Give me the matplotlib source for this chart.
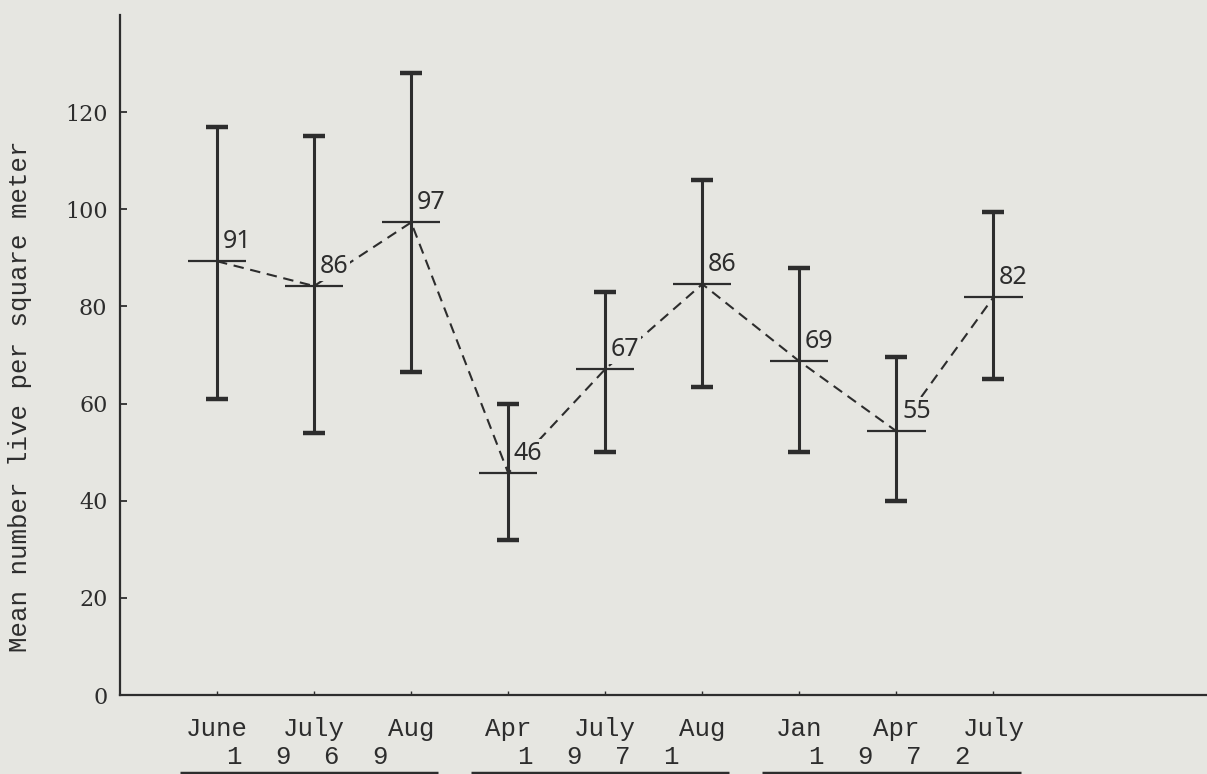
import matplotlib
matplotlib.use("Agg")
import matplotlib.pyplot as plt
import matplotlib.transforms as mtransforms
import numpy as np

# ---- data ----
months = ["June", "July", "Aug", "Apr", "July", "Aug", "Jan", "Apr", "July"]
years = ["1969", "1971", "1972"]
year_groups = [(0, 2), (3, 5), (6, 8)]          # index ranges of months in each year
means = [89.3, 84.2, 97.3, 45.7, 67.1, 84.6, 68.7, 54.3, 81.9]   # drawn positions
mean_labels = ["91", "86", "97", "46", "67", "86", "69", "55", "82"]
upper = [117, 115, 128, 60, 83, 106, 88, 69.5, 99.5]
lower = [61, 54, 66.5, 32, 50, 63.5, 50, 40, 65]
yticks = [0, 20, 40, 60, 80, 100, 120]

BG = "#e6e6e1"
INK = "#2d2d2d"

fig = plt.figure(figsize=(12.07, 7.74), dpi=100, facecolor=BG)
ax = fig.add_axes([120 / 1207, 79 / 774, 1 - 120 / 1207, 680 / 774])
ax.set_facecolor(BG)

x = np.arange(1, len(months) + 1)
m = np.array(means)
up = np.array(upper)
lo = np.array(lower)

# dashed connecting line
ax.plot(x, m, color=INK, lw=1.5, linestyle=(0, (5.0, 3.2)), zorder=2)

# error bars
ax.errorbar(x, m, yerr=[m - lo, up - m], fmt="none", ecolor=INK,
            elinewidth=2.2, capsize=8, capthick=3.2, zorder=3)

# horizontal mean bars
ax.hlines(m, x - 0.3, x + 0.3, color=INK, lw=1.6, zorder=3)

# value labels
for xi, mi, lbl in zip(x, m, mean_labels):
    ax.annotate(lbl, (xi, mi), xytext=(4, 9.5), textcoords="offset points",
                ha="left", va="baseline", fontsize=18, color=INK,
                family=["Noto Sans", "DejaVu Sans"], zorder=4,
                bbox=dict(boxstyle="square,pad=0.08", fc=BG, ec="none"))

ax.set_xlim(0, 11.2)
ax.set_ylim(0, 140)

for s in ["top", "right"]:
    ax.spines[s].set_visible(False)
for s in ["left", "bottom"]:
    ax.spines[s].set_color(INK)
    ax.spines[s].set_linewidth(1.6)

ax.set_yticks(yticks)
ax.set_yticklabels([str(v) for v in yticks], family="DejaVu Serif",
                   fontsize=16, color=INK)
ax.tick_params(axis="y", direction="in", length=5, width=1.3, color=INK, pad=9)

ax.set_xticks(x)
ax.set_xticklabels(months, family="Liberation Mono", fontsize=18.5, color=INK)
ax.tick_params(axis="x", direction="in", length=3, width=1.0, color=INK, pad=16)

# year digits and underlines
trans = mtransforms.blended_transform_factory(ax.transData, ax.transAxes)
for yr, (i0, i1) in zip(years, year_groups):
    x0 = x[i0]
    for k, ch in enumerate(yr):
        ax.text(x0 + 0.175 + 0.5 * k, -0.091, ch, transform=trans,
                ha="center", va="center", family="Liberation Mono",
                fontsize=18.5, color=INK, clip_on=False)
    ax.plot([x[i0] - 0.38, x[i1] + 0.28], [-0.1145, -0.1145], transform=trans,
            color=INK, lw=2.5, clip_on=False, solid_capstyle="butt")

fig.text(20 / 1207, 1 - 396 / 774, "Mean number live per square meter",
         rotation=90, ha="center", va="center", family="Liberation Mono",
         fontsize=18.5, color=INK)

fig.savefig("out.png", dpi=100, facecolor=BG)
